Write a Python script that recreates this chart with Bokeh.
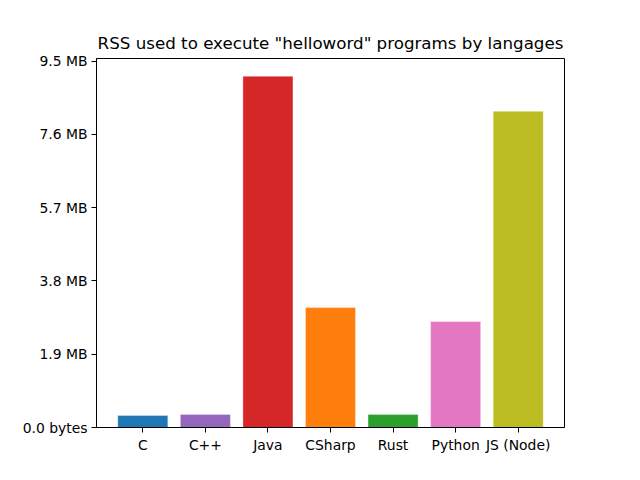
from bokeh.plotting import figure
from bokeh.models import ColumnDataSource, FixedTicker, Range1d
from bokeh.embed import file_html
from bokeh.resources import INLINE

languages = ["C", "C++", "Java", "CSharp", "Rust", "Python", "JS (Node)"]
rss_mb = [0.31, 0.34, 9.11, 3.11, 0.34, 2.75, 8.20]
colors = ["#1f77b4", "#9467bd", "#d62728", "#ff7f0e", "#2ca02c", "#e377c2", "#bcbd22"]
y_ticks = [0.0, 1.9, 3.8, 5.7, 7.6, 9.5]
y_tick_labels = ["0.0 bytes", "1.9 MB", "3.8 MB", "5.7 MB", "7.6 MB", "9.5 MB"]

xs = list(range(len(languages)))
src = ColumnDataSource(dict(x=xs, top=rss_mb, color=colors))

FONT = "DejaVu Sans"

p = figure(width=624, height=464, output_backend="svg", toolbar_location=None,
           title='RSS used to execute "helloword" programs by langages',
           x_range=Range1d(-0.74, 6.74), y_range=Range1d(0, 9.57),
           min_border_left=96, min_border_right=60, min_border_top=58, min_border_bottom=37)

p.vbar(x="x", top="top", bottom=0, width=0.8, source=src, fill_color="color",
       line_color="white", line_alpha=0.35, line_width=1)

p.title.align = "center"
p.title.text_font = FONT
p.title.text_font_size = "16.7px"
p.title.text_font_style = "normal"
p.title.text_color = "black"
p.title.standoff = 11

p.xgrid.visible = False
p.ygrid.visible = False
p.outline_line_color = "black"
p.outline_line_alpha = 1
p.outline_line_width = 1
p.background_fill_color = "white"
p.border_fill_color = "white"

p.xaxis.ticker = FixedTicker(ticks=xs)
p.xaxis.major_label_overrides = {i: l for i, l in enumerate(languages)}
p.yaxis.ticker = FixedTicker(ticks=y_ticks)
p.yaxis.major_label_overrides = {t: l for t, l in zip(y_ticks, y_tick_labels)}

for ax in (p.xaxis, p.yaxis):
    ax.major_label_text_font = FONT
    ax.major_label_text_font_size = "13.9px"
    ax.major_label_text_color = "black"
    ax.axis_line_color = "black"
    ax.major_tick_line_color = "black"
    ax.major_tick_in = 0
    ax.major_tick_out = 5
    ax.minor_tick_line_color = None
    ax.major_label_standoff = 4

open("out.html", "w").write(file_html(p, INLINE))
